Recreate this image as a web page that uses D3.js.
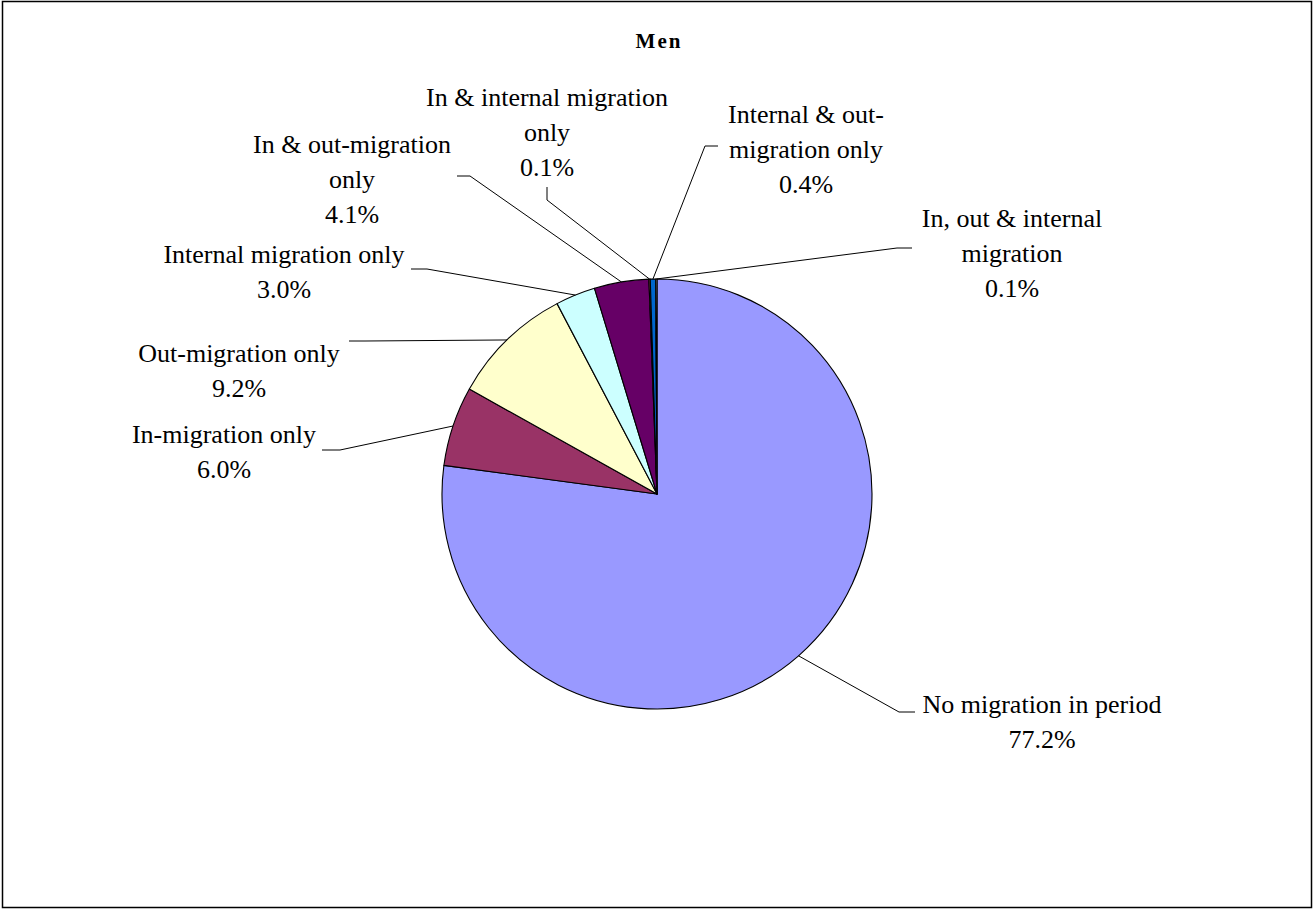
<!DOCTYPE html>
<html>
<head>
<meta charset="utf-8">
<script src="https://cdn.jsdelivr.net/npm/d3@7/dist/d3.min.js"></script>
<style>
  html, body { margin: 0; padding: 0; background: #fff; }
  svg { display: block; }
  text { font-family: "Liberation Serif", "Times New Roman", serif; fill: #000; }
</style>
</head>
<body>
<svg id="chart" width="1314" height="910"></svg>
<script>
// Migration status of men over the period (percent of total)
const categories = [
  "No migration in period",
  "In-migration only",
  "Out-migration only",
  "Internal migration only",
  "In & out-migration only",
  "In & internal migration only",
  "Internal & out-migration only",
  "In, out & internal migration"
];
const values = [77.2, 6.0, 9.2, 3.0, 4.1, 0.1, 0.4, 0.1];
const colors = ["#9999FF", "#993366", "#FFFFCC", "#CCFFFF", "#660066", "#FF8080", "#0066CC", "#CCCCFF"];
// How each category name wraps in its label
const labelLines = [
  ["No migration in period"],
  ["In-migration only"],
  ["Out-migration only"],
  ["Internal migration only"],
  ["In & out-migration", "only"],
  ["In & internal migration", "only"],
  ["Internal & out-", "migration only"],
  ["In, out & internal", "migration"]
];
const title = "Men";

// Label placement: text centre, first baseline, leader elbow and leader end
const labelLayout = [
  { x: 1042, y: 713, elbow: [899, 712], end: [915, 712] },
  { x: 224,  y: 443, elbow: [340, 450], end: [322, 450] },
  { x: 239,  y: 362, elbow: [365, 341], end: [349, 341] },
  { x: 284,  y: 263, elbow: [427, 269], end: [411, 269] },
  { x: 352,  y: 153, elbow: [470, 176], end: [457, 176] },
  { x: 547,  y: 106, elbow: [547, 200], end: [547, 187] },
  { x: 806,  y: 123, elbow: [705, 146], end: [718, 146] },
  { x: 1012, y: 227, elbow: [897, 248], end: [912, 248] }
];

const W = 1314, H = 910;
const cx = 657, cy = 494, R = 215;
const lineH = 35;

const svg = d3.select("#chart");

// Chart area frame
svg.append("rect")
  .attr("x", 2.5).attr("y", 1.5)
  .attr("width", W - 5).attr("height", H - 4)
  .attr("fill", "#fff")
  .attr("stroke", "#000")
  .attr("stroke-width", 1.5);

svg.append("text")
  .attr("x", 659).attr("y", 48)
  .attr("text-anchor", "middle")
  .attr("font-size", 21)
  .attr("font-weight", "bold")
  .attr("letter-spacing", 2)
  .text(title);

const data = categories.map((c, i) => ({ name: c, value: values[i], color: colors[i], lines: labelLines[i], layout: labelLayout[i] }));

const pie = d3.pie().sort(null).value(d => d.value).startAngle(0).endAngle(2 * Math.PI);
const arcs = pie(data);
const arc = d3.arc().innerRadius(0).outerRadius(R);

const g = svg.append("g").attr("transform", `translate(${cx},${cy})`);

g.selectAll("path.slice")
  .data(arcs)
  .enter().append("path")
  .attr("class", "slice")
  .attr("d", arc)
  .attr("fill", d => d.data.color)
  .attr("stroke", "#000")
  .attr("stroke-width", 1.1)
  .attr("stroke-linejoin", "round");

// Leader lines from the middle of each slice's rim to its label
const fmt = v => v.toFixed(1) + "%";
arcs.forEach(a => {
  const mid = (a.startAngle + a.endAngle) / 2;
  const sx = cx + R * Math.sin(mid);
  const sy = cy - R * Math.cos(mid);
  const L = a.data.layout;
  svg.append("path")
    .attr("d", d3.line()([[sx, sy], L.elbow, L.end]))
    .attr("fill", "none")
    .attr("stroke", "#000")
    .attr("stroke-width", 1);

  const t = svg.append("text")
    .attr("text-anchor", "middle")
    .attr("font-size", 26);
  const lines = a.data.lines.concat([fmt(a.data.value)]);
  lines.forEach((ln, i) => {
    t.append("tspan")
      .attr("x", L.x)
      .attr("y", L.y + i * lineH)
      .text(ln);
  });
});
</script>
</body>
</html>
